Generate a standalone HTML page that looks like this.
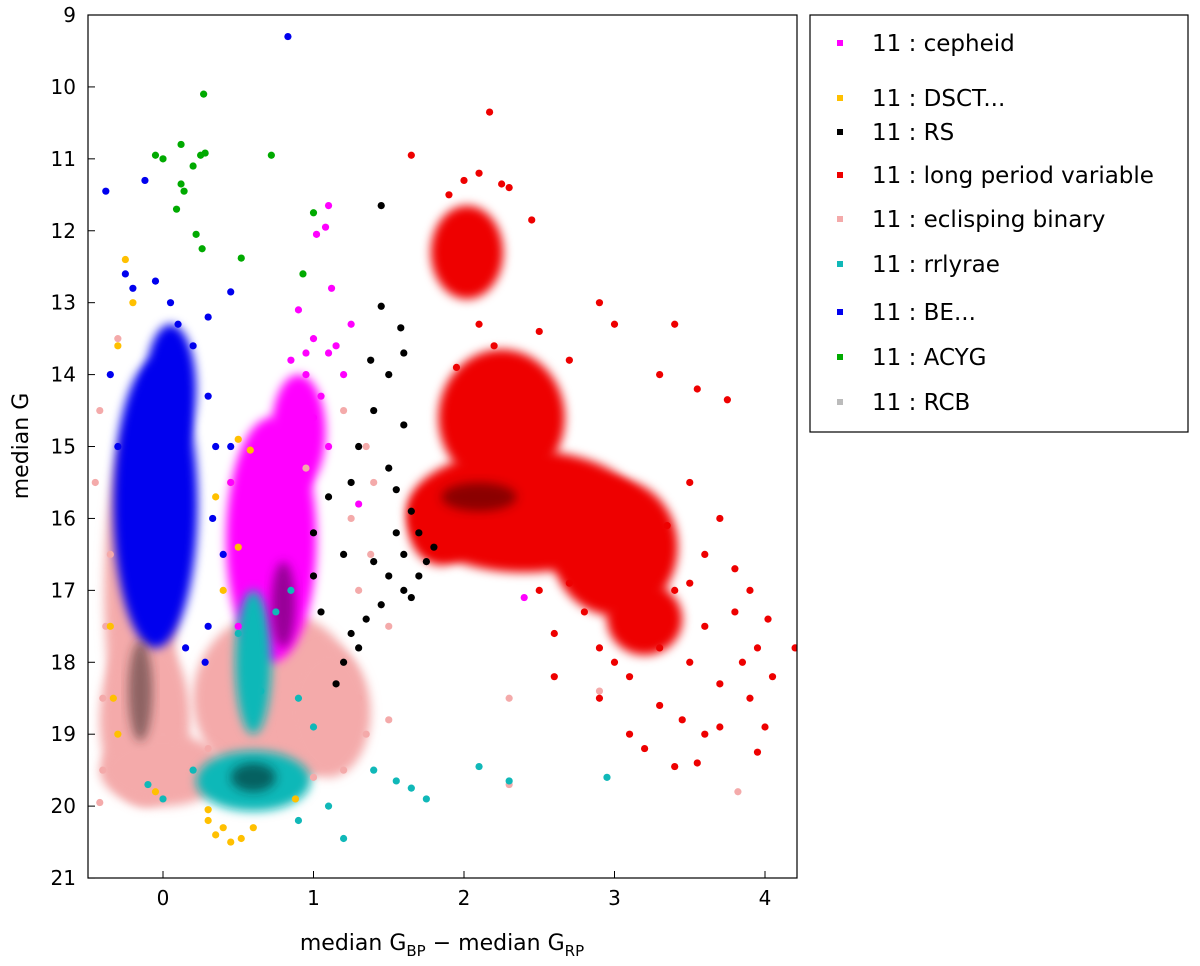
<!DOCTYPE html>
<html><head><meta charset="utf-8"><style>
body{margin:0;background:#fff;font-family:"Liberation Sans","DejaVu Sans",sans-serif;}
svg text{font-family:"DejaVu Sans","Liberation Sans",sans-serif;}
</style></head><body>
<svg id="chart" width="1200" height="961" xmlns="http://www.w3.org/2000/svg">
<defs><filter id="soft" x="-30%" y="-30%" width="160%" height="160%"><feGaussianBlur stdDeviation="5"/></filter>
<clipPath id="clip"><rect x="88" y="15" width="709" height="863"/></clipPath></defs>
<g id="marks" clip-path="url(#clip)"></g>
<rect x="88" y="15" width="709" height="863" fill="none" stroke="#000" stroke-width="1.2"/>
<g id="axes"></g>
<text x="442" y="950" font-size="22" text-anchor="middle">median G<tspan font-size="15" dy="6">BP</tspan><tspan dy="-6"> − median G</tspan><tspan font-size="15" dy="6">RP</tspan></text>
<text transform="translate(28,446) rotate(-90)" font-size="22" text-anchor="middle">median G</text>
<g id="legend">
<rect x="810" y="15" width="378" height="417" fill="#fff" stroke="#000" stroke-width="1.2"/>
</g>
</svg>
<script>
const xTicks=[0,1,2,3,4];
const yTicks=[9,10,11,12,13,14,15,16,17,18,19,20,21];
const legendLabels=["11 : cepheid","11 : DSCT...","11 : RS","11 : long period variable","11 : eclisping binary","11 : rrlyrae","11 : BE...","11 : ACYG","11 : RCB"];
const legendColors=["#ff00ff","#ffc000","#000000","#ee0000","#f4aaaa","#10b8b8","#0000ee","#00aa00","#bbbbbb"];
// dense clusters (data units): center x, center y, half-width, half-height
const clusterX=[-0.15,-0.12,0.75,0.0,1.1,0.72,0.9,-0.05,0.05,2.4,1.85,3.0,2.25,3.2,2.02,0.6,0.6,-0.15,0.8,0.6,2.1];
const clusterY=[17.0,18.8,18.5,19.5,18.7,16.3,14.8,15.8,14.2,15.9,16.1,16.4,14.6,17.4,12.3,18.0,19.65,18.4,17.2,19.6,15.7];
const clusterW=[0.24,0.3,0.55,0.42,0.28,0.3,0.18,0.28,0.17,0.78,0.22,0.42,0.42,0.25,0.24,0.12,0.38,0.08,0.08,0.15,0.25];
const clusterH=[2.4,1.2,1.2,0.5,0.9,1.7,0.8,2.0,0.9,0.85,0.55,0.95,0.95,0.5,0.65,1.0,0.42,0.7,0.6,0.2,0.2];
const clusterColor=["#f4aaaa","#f4aaaa","#f4aaaa","#f4aaaa","#f4aaaa","#ff00ff","#ff00ff","#0000ee","#0000ee","#ee0000","#ee0000","#ee0000","#ee0000","#ee0000","#ee0000","#10b8b8","#10b8b8","rgba(60,40,40,0.55)","rgba(70,0,70,0.55)","rgba(0,40,40,0.6)","rgba(60,0,0,0.55)"];
// individual points per class
const acygX=[0.27,-0.05,0.0,0.12,0.2,0.25,0.28,0.72,0.12,0.14,0.09,0.22,0.26,0.52,0.93,1.0];
const acygY=[10.1,10.95,11.0,10.8,11.1,10.95,10.92,10.95,11.35,11.45,11.7,12.05,12.25,12.38,12.6,11.75];
const cephX=[1.02,1.1,1.08,1.12,1.1,1.15,1.0,0.95,1.05,1.2,1.25,0.9,0.95,2.4,1.1,1.3,0.85,1.0,0.45,0.5];
const cephY=[12.05,11.65,11.95,12.8,13.7,13.6,13.5,14.0,14.3,14.0,13.3,13.1,13.7,17.1,15.0,15.8,13.8,14.6,15.5,17.5];
const beX=[0.83,-0.38,-0.12,0.45,-0.25,0.3,0.3,0.35,0.45,0.4,0.3,0.28,-0.2,0.1,0.2,-0.35,0.33,-0.05,0.05,0.15,-0.3];
const beY=[9.3,11.45,11.3,12.85,12.6,13.2,14.3,15.0,15.0,16.5,17.5,18.0,12.8,13.3,13.6,14.0,16.0,12.7,13.0,17.8,15.0];
const rsX=[1.45,1.45,1.58,1.6,1.5,1.4,1.6,1.3,1.25,1.5,1.55,1.65,1.7,1.6,1.75,1.5,1.45,1.6,1.35,1.3,1.2,1.15,1.25,1.0,1.05,1.7,1.65,1.4,1.55,1.8,1.1,1.0,1.2,1.38];
const rsY=[11.65,13.05,13.35,13.7,14.0,14.5,14.7,15.0,15.5,15.3,15.6,15.9,16.2,16.5,16.6,16.8,17.2,17.0,17.4,17.8,18.0,18.3,17.6,16.8,17.3,16.8,17.1,16.6,16.2,16.4,15.7,16.2,16.5,13.8];
const lpvX=[2.17,1.65,1.9,2.0,2.1,2.25,2.3,2.45,2.9,3.0,3.4,3.55,3.75,3.3,3.5,3.7,3.6,3.8,3.9,4.02,4.2,3.95,3.85,4.05,3.7,3.9,4.0,3.95,3.6,3.55,3.4,3.2,3.1,3.3,3.5,3.3,3.2,3.0,2.8,2.6,2.6,2.9,3.1,3.45,3.0,2.7,3.4,3.6,3.7,3.2,3.35,3.5,2.5,3.0,2.9,3.8,2.1,2.5,2.7,2.2,1.95];
const lpvY=[10.35,10.95,11.5,11.3,11.2,11.35,11.4,11.85,13.0,13.3,13.3,14.2,14.35,14.0,15.5,16.0,16.5,16.7,17.0,17.4,17.8,17.8,18.0,18.2,18.3,18.5,18.9,19.25,19.0,19.4,19.45,19.2,19.0,18.6,18.0,17.8,17.4,17.0,17.3,17.6,18.2,18.5,18.2,18.8,18.0,16.9,17.0,17.5,18.9,16.5,16.1,16.9,17.0,16.8,17.8,17.3,13.3,13.4,13.8,13.6,13.9];
const rrX=[1.55,1.65,1.75,2.1,2.3,2.95,1.2,1.1,0.9,1.4,1.0,0.85,0.9,0.2,-0.1,0.0,0.75,0.5,0.65];
const rrY=[19.65,19.75,19.9,19.45,19.65,19.6,20.45,20.0,20.2,19.5,18.9,17.0,18.5,19.5,19.7,19.9,17.3,17.6,18.4];
const dsctX=[-0.25,-0.2,-0.3,0.5,0.58,0.45,0.35,0.5,0.4,-0.35,-0.33,-0.3,0.3,0.35,0.45,0.52,0.3,0.4,-0.05,0.88,0.6];
const dsctY=[12.4,13.0,13.6,14.9,15.05,15.5,15.7,16.4,17.0,17.5,18.5,19.0,20.2,20.4,20.5,20.45,20.05,20.3,19.8,19.9,20.3];
const ebX=[2.3,2.3,2.9,3.82,1.5,1.3,1.2,1.35,-0.42,-0.4,-0.45,-0.42,-0.3,1.0,1.1,1.3,1.25,1.4,0.95,1.2,1.35,-0.35,-0.38,-0.4,1.5,1.38,1.0,0.3];
const ebY=[18.5,19.7,18.4,19.8,18.8,18.5,19.5,19.0,19.95,19.5,15.5,14.5,13.5,19.6,18.0,17.0,16.0,15.5,15.3,14.5,15.0,16.5,17.5,18.5,17.5,16.5,19.0,19.2];

const X0=163,XS=150.5,Y0=15,YS=71.92;
const sx=v=>X0+v*XS, sy=v=>Y0+(v-9)*YS;
const NS="http://www.w3.org/2000/svg";
const marks=document.getElementById('marks'), axes=document.getElementById('axes'), legend=document.getElementById('legend');
function mk(tag,attrs,parent){const e=document.createElementNS(NS,tag);for(const k in attrs)e.setAttribute(k,attrs[k]);parent.appendChild(e);return e;}

for(let i=0;i<clusterX.length;i++){
  const e=mk('ellipse',{cx:sx(clusterX[i]),cy:sy(clusterY[i]),rx:clusterW[i]*XS,ry:clusterH[i]*YS,fill:clusterColor[i],filter:'url(#soft)'},marks);
  
  
}
function series(xs,ys,color,name){
  const g=mk('g',{},marks);
  
  
  for(let i=0;i<xs.length;i++){
    const c=mk('circle',{cx:sx(xs[i]),cy:sy(ys[i]),r:3.6,fill:color},g);
    
    
  }
}
series(ebX,ebY,"#f4aaaa","eclipsing-binary-series");
series(dsctX,dsctY,"#ffc000","dsct-series");
series(cephX,cephY,"#ff00ff","cepheid-series");
series(beX,beY,"#0000ee","be-series");
series(lpvX,lpvY,"#ee0000","lpv-series");
series(rsX,rsY,"#000000","rs-series");
series(rrX,rrY,"#10b8b8","rrlyrae-series");
series(acygX,acygY,"#00aa00","acyg-series");

xTicks.forEach(v=>{
  const l=mk('line',{x1:sx(v),x2:sx(v),y1:878,y2:871,stroke:'#000'},axes);
  
  
  const t=mk('text',{x:sx(v),y:905,'font-size':20,'text-anchor':'middle'},axes);
  t.textContent=v;
  
  
});
yTicks.forEach(v=>{
  const l=mk('line',{x1:88,x2:95,y1:sy(v),y2:sy(v),stroke:'#000'},axes);
  
  
  const t=mk('text',{x:76,y:sy(v)+7,'font-size':20,'text-anchor':'end'},axes);
  t.textContent=v;
  
  
});
const legY=[43,98,132,175,219,264,312,357,402];
legendLabels.forEach((lab,i)=>{
  const r=mk('rect',{x:837,y:legY[i]-3,width:6,height:6,fill:legendColors[i]},legend);
  
  
  const t=mk('text',{x:872,y:legY[i]+8,'font-size':23},legend);
  t.textContent=lab;
  
  
});
</script>
</body></html>
